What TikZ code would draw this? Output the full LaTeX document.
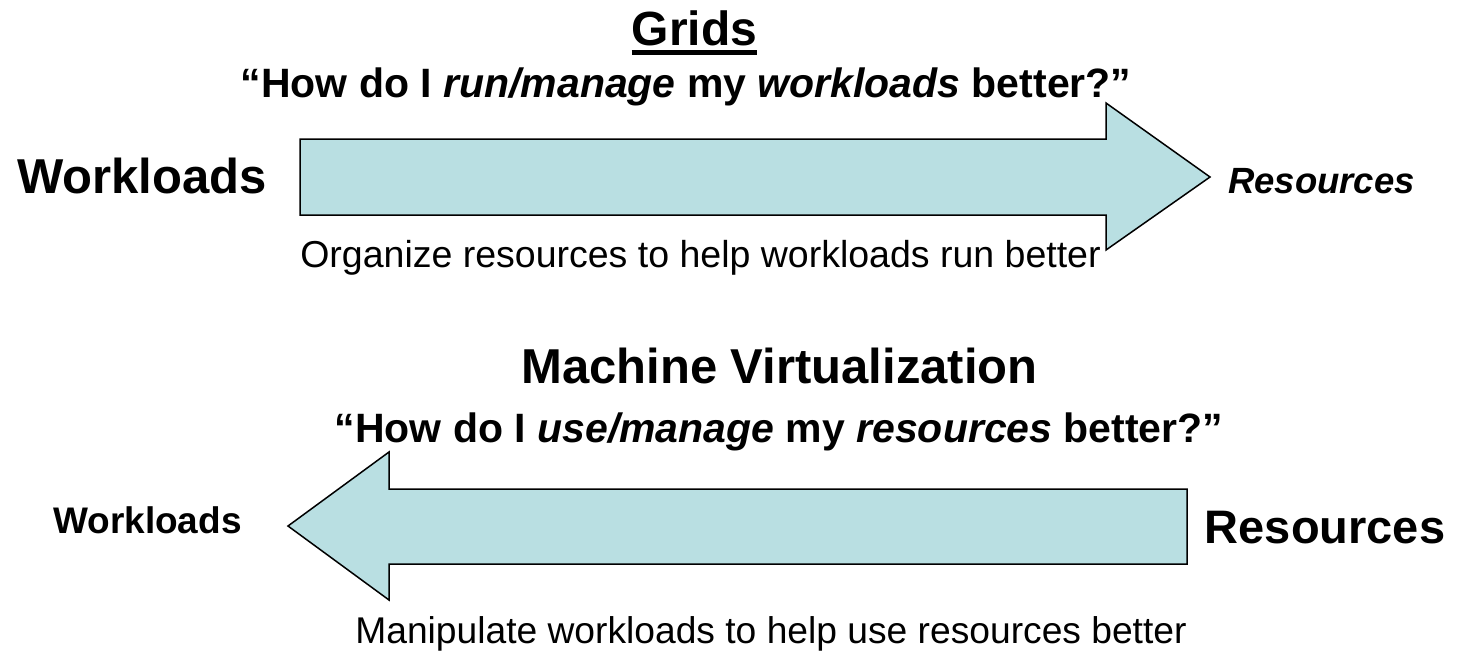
\documentclass[tikz,border=0pt]{standalone}
\usepackage{fontspec}
\setmainfont{Liberation Sans}
\definecolor{arrowfill}{RGB}{185,223,226}
\begin{document}
\begin{tikzpicture}[
  x=1pt, y=-1pt,
  every node/.style = {inner sep=0pt, anchor=base},
  blockarrow/.style = {draw=black, line width=1.5pt, fill=arrowfill, line join=miter},
  titletext/.style = {font=\fontsize{48}{58}\selectfont\bfseries},
  asktext/.style = {font=\fontsize{41}{49}\selectfont\bfseries},
  notetext/.style = {font=\fontsize{37.5}{45}\selectfont}]
  \useasboundingbox (0,0) rectangle (1461,653);
  % grids
  \node[titletext] (grids) at (694.5,45) {Grids};
  \draw[line width=5pt] ([yshift=-7.5pt]grids.base west) -- ([yshift=-7.5pt]grids.base east);
  \node[asktext] (gridsask) at (686,97) {“How do I \textit{run/manage} my \textit{workloads} better?”};
  \node[titletext, font=\fontsize{49}{58}\selectfont\bfseries] (gwork) at (142,193) {Workloads};
  \node[font=\fontsize{36.5}{44}\selectfont\bfseries\itshape] (gres) at (1321.5,193) {Resources};
  \draw[blockarrow] (300,139) -- (1106,139) -- (1106,103) -- (1210,177)
    -- (1106,250) -- (1106,215) -- (300,215) -- cycle;
  \node[notetext] (gridsnote) at (700.5,267) {Organize resources to help workloads run better};
  % machine virtualization
  \node[titletext, font=\fontsize{49}{58}\selectfont\bfseries] (virt) at (779.5,383) {Machine Virtualization};
  \node[asktext] (virtask) at (779,442) {“How do I \textit{use/manage} my \textit{resources} better?”};
  \node[font=\fontsize{37}{44}\selectfont\bfseries] (vwork) at (147.5,533) {Workloads};
  \node[titletext, font=\fontsize{47}{56}\selectfont\bfseries] (vres) at (1325,543) {Resources};
  \draw[blockarrow] (1187,489) -- (389,489) -- (389,452) -- (288,526)
    -- (389,600) -- (389,564) -- (1187,564) -- cycle;
  \node[notetext, font=\fontsize{37.2}{45}\selectfont] (virtnote) at (771,643) {Manipulate workloads to help use resources better};
\end{tikzpicture}
\end{document}
